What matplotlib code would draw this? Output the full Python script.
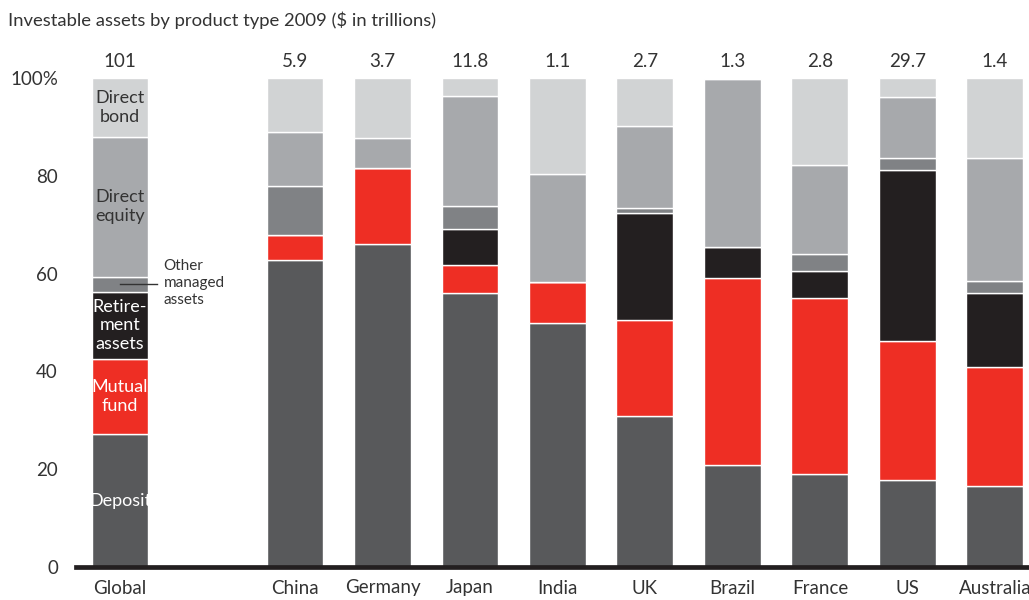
import matplotlib.pyplot as plt
import numpy as np

plt.rcParams["font.family"] = ["Lato", "DejaVu Sans"]

# data (shares in %)
categories = ["Global", "China", "Germany", "Japan", "India", "UK",
              "Brazil", "France", "US", "Australia"]
totals = ["101", "5.9", "3.7", "11.8", "1.1", "2.7", "1.3", "2.8", "29.7", "1.4"]
positions = [0, 2, 3, 4, 5, 6, 7, 8, 9, 10]

deposit = [27.2, 62.7, 66.0, 56.0, 49.9, 30.9, 20.8, 19.0, 17.8, 16.5]
mutual_fund = [15.4, 5.1, 15.6, 5.7, 8.4, 19.7, 38.3, 36.1, 28.5, 24.5]
retirement = [13.6, 0.0, 0.0, 7.4, 0.0, 21.7, 6.4, 5.4, 34.9, 15.0]
other_managed = [3.2, 10.1, 0.0, 4.8, 0.0, 1.1, 0.0, 3.6, 2.4, 2.5]
direct_equity = [28.6, 11.1, 6.1, 22.4, 22.1, 16.8, 34.3, 18.1, 12.5, 25.2]
direct_bond = [12.0, 11.0, 12.3, 3.7, 19.6, 9.8, 0.0, 17.8, 3.9, 16.3]

series = [
    ("Deposit", deposit, "#58595b", "white"),
    ("Mutual\nfund", mutual_fund, "#ee2e24", "white"),
    ("Retire-\nment\nassets", retirement, "#231f20", "white"),
    ("Other managed assets", other_managed, "#808285", None),
    ("Direct\nequity", direct_equity, "#a7a9ac", "#333333"),
    ("Direct\nbond", direct_bond, "#d1d3d4", "#333333"),
]

text_color = "#333333"

fig = plt.figure(figsize=(10.29, 6.0), dpi=100)
ax = fig.add_axes([76 / 1029, 1 - 567 / 600, 1 - 76 / 1029, (567 - 78) / 600])

x = np.array(positions, dtype=float)
width = 0.65
bottom = np.zeros(len(categories))
for label, values, color, tcolor in series:
    vals = np.array(values)
    ax.bar(x, vals, width, bottom=bottom, color=color,
           edgecolor="white", linewidth=1.0, zorder=2)
    # labels inside the Global bar
    if tcolor is not None:
        y = bottom[0] + vals[0] / 2
        if label == "Deposit":
            y = 13.5
        ax.text(x[0], y, label, ha="center", va="center", fontsize=13,
                color=tcolor, linespacing=1.22, zorder=3)
    bottom += vals

# callout for other managed assets
oy = deposit[0] + mutual_fund[0] + retirement[0] + other_managed[0] / 2
ax.plot([x[0], x[0] + 0.42], [oy, oy], color="#333333", lw=1, zorder=4,
        clip_on=False)
ax.text(x[0] + 0.5, oy + 0.3, "Other\nmanaged\nassets", ha="left", va="center",
        fontsize=11, color=text_color, linespacing=1.3)

# totals on top
for xi, t in zip(x, totals):
    ax.text(xi, 103.3, t, ha="center", va="center", fontsize=13.5,
            color=text_color, clip_on=False)

ax.set_xlim(-0.503, 10.39)
ax.set_ylim(0, 100)
ax.set_xticks(x)
ax.set_xticklabels(categories, fontsize=13.5, color=text_color)
ax.set_yticks([0, 20, 40, 60, 80, 100])
ax.set_yticklabels(["0", "20", "40", "60", "80", "100%"], fontsize=13.5,
                   color=text_color)
ax.tick_params(axis="both", length=0)
ax.tick_params(axis="y", pad=13)
ax.tick_params(axis="x", pad=9)

for side in ["top", "right", "left"]:
    ax.spines[side].set_visible(False)
ax.spines["bottom"].set_linewidth(3.4)
ax.spines["bottom"].set_color("#231f20")
ax.spines["bottom"].set_zorder(5)

fig.text(8 / 1029, 1 - 20 / 600,
         "Investable assets by product type 2009 ($ in trillions)",
         ha="left", va="center", fontsize=13.3, color=text_color)

fig.savefig("out.png", dpi=100)
